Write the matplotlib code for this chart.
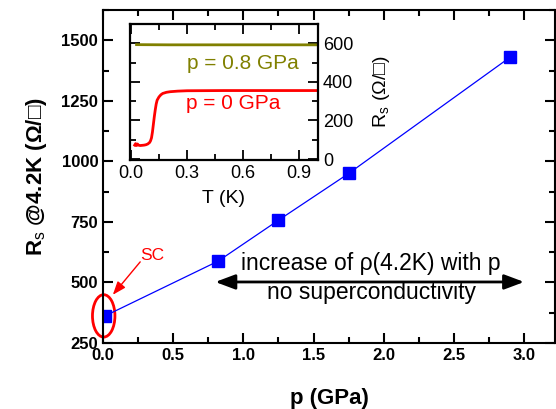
import numpy as np
import matplotlib
matplotlib.use("Agg")
import matplotlib.pyplot as plt
from matplotlib.patches import Ellipse

plt.rcParams['font.family'] = ['Liberation Sans', 'DejaVu Sans']
plt.rcParams['mathtext.fontset'] = 'custom'
plt.rcParams['mathtext.rm'] = 'Liberation Sans'
plt.rcParams['mathtext.bf'] = 'Liberation Sans:bold'

# main panel: sheet resistance at 4.2 K vs pressure
p_gpa = [0.015, 0.82, 1.25, 1.75, 2.90]
rs_42k = [362, 588, 757, 950, 1430]

# inset: R_s(T) curves
t_p0 = [0.02, 0.025, 0.03, 0.035, 0.04, 0.05, 0.06, 0.07, 0.08, 0.09, 0.10,
        0.105, 0.11, 0.115, 0.12, 0.125, 0.13, 0.135, 0.14, 0.15, 0.16,
        0.17, 0.19, 0.21, 0.25, 0.30, 0.50, 0.70, 1.00]
r_p0 = [72, 80, 70, 78, 72, 70, 71, 72, 74, 78, 86,
        95, 110, 140, 180, 220, 255, 285, 305, 322, 333,
        340, 346, 349, 352, 354, 355, 355, 355]
t_p08 = [0.03, 0.2, 0.4, 0.6, 0.8, 1.0]
r_p08 = [593, 592, 592, 592, 592, 592]

fig = plt.figure(figsize=(5.56, 4.09), dpi=100)
ax = fig.add_axes([103/556, 1-343/409, 452/556, 333/409])

ax.plot(p_gpa, rs_42k, '-', color='blue', lw=0.9)
ax.plot(p_gpa, rs_42k, 's', color='blue', ms=8, mec='blue')

ax.set_xlim(0, 3.22)
ax.set_ylim(250, 1625)
ax.set_xticks([0.0, 0.5, 1.0, 1.5, 2.0, 2.5, 3.0])
ax.set_xticks(np.arange(0.25, 3.2, 0.5), minor=True)
ax.set_yticks([250, 500, 750, 1000, 1250, 1500])
ax.set_yticks([375, 625, 875, 1125, 1375, 1625], minor=True)
ax.xaxis.set_major_formatter(matplotlib.ticker.FormatStrFormatter('%.1f'))
ax.tick_params(which='both', direction='in', top=True, right=True, width=1.5)
ax.tick_params(which='major', length=7, labelsize=12)
ax.tick_params(which='minor', length=4)
for lab in ax.get_xticklabels() + ax.get_yticklabels():
    lab.set_fontweight('bold')
for s in ax.spines.values():
    s.set_linewidth(1.5)

ax.set_xlabel('p (GPa)', fontsize=16, fontweight='bold', labelpad=18)
ax.set_ylabel(r'R$_{\rm s}$ @4.2K (Ω/□)', fontsize=16, fontweight='bold', labelpad=9)

# double arrow and text
ax.annotate('', xy=(0.80, 502), xytext=(3.0, 502),
            arrowprops=dict(arrowstyle='<|-|>,head_length=1.2,head_width=0.45',
                            color='black', lw=2, shrinkA=0, shrinkB=0))
ax.text(1.91, 577, 'increase of ρ(4.2K) with p', fontsize=16.5, ha='center', va='center')
ax.text(1.91, 457, 'no superconductivity', fontsize=16.5, ha='center', va='center')

# SC marker
ax.add_patch(Ellipse((0.005, 362), 0.16, 175, fill=False, ec='red', lw=2, clip_on=False))
ax.text(0.35, 612, 'SC', color='red', fontsize=12.5, ha='center', va='center')
ax.annotate('', xy=(0.07, 449), xytext=(0.265, 585),
            arrowprops=dict(arrowstyle='-|>,head_length=0.8,head_width=0.3',
                            color='red', lw=1, shrinkA=0, shrinkB=0))

# inset
ins = fig.add_axes([130/556, 1-160/409, 188/556, 136/409])
ins.plot(t_p08, r_p08, color='#808000', lw=2)
ins.plot(t_p0, r_p0, color='red', lw=2)
ins.set_xlim(-0.005, 1.0)
ins.set_ylim(-5, 700)
ins.set_xticks([0.0, 0.3, 0.6, 0.9])
ins.set_xticks([0.15, 0.45, 0.75], minor=True)
ins.set_yticks([0, 200, 400, 600])
ins.set_yticks([100, 300, 500, 700], minor=True)
ins.xaxis.set_major_formatter(matplotlib.ticker.FormatStrFormatter('%.1f'))
ins.yaxis.tick_right()
ins.tick_params(which='both', direction='in', top=True, left=True, right=True, width=1.3)
ins.tick_params(which='major', length=7, labelsize=13)
ins.tick_params(which='minor', length=4)
for s in ins.spines.values():
    s.set_linewidth(1.6)
ins.set_xlabel('T (K)', fontsize=14, labelpad=6)
ins.text(1.34, 0.5, r'R$_{\rm s}$ (Ω/□)', fontsize=14, rotation=90,
         ha='center', va='center', transform=ins.transAxes)
ins.text(0.6, 497, 'p = 0.8 GPa', color='#808000', fontsize=15, ha='center', va='center')
ins.text(0.546, 287, 'p = 0 GPa', color='red', fontsize=15, ha='center', va='center')

fig.savefig('out.png', dpi=100)
